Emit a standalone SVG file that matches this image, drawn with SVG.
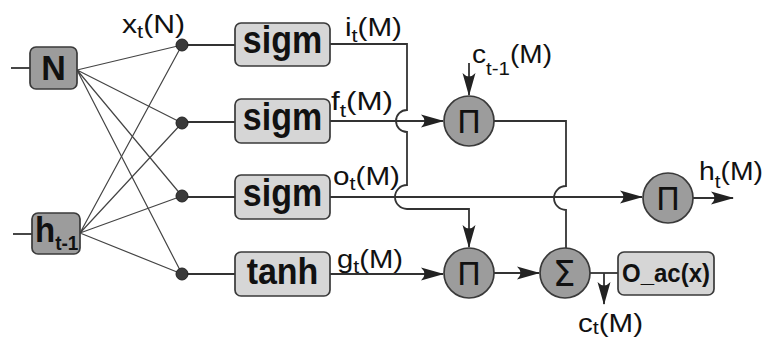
<svg xmlns="http://www.w3.org/2000/svg" width="764" height="340" viewBox="0 0 764 340">
<defs>
<style>
.bx{fill:#d6d6d6;stroke:#3a3a3a;stroke-width:1.7}
.dk{fill:#9c9c9c;stroke:#3a3a3a;stroke-width:1.7}
.ci{fill:#9c9c9c;stroke:#3a3a3a;stroke-width:1.7}
.dot{fill:#3a3a3a;stroke:#222;stroke-width:1}
.ln{fill:none;stroke:#333;stroke-width:1.8}
.fan{fill:none;stroke:#444;stroke-width:1.2}
.arr{marker-end:url(#ah)}
.bt{font-family:"Liberation Sans",Arial,sans-serif;font-weight:bold;fill:#111}
.lb{font-family:"Liberation Sans",Arial,sans-serif;font-size:26px;fill:#111}
.sb{font-size:19px}
.op{font-family:"DejaVu Sans",sans-serif;fill:#111;text-anchor:middle}
</style>
<marker id="ah" markerUnits="userSpaceOnUse" viewBox="-24 -8 26 16" refX="0" refY="0" markerWidth="26" markerHeight="16" orient="auto">
<path d="M1,0 L-22,-6.5 Q-15,0 -22,6.5 Z" fill="#222"/>
</marker>
</defs>

<g id="connectors">
<path class="ln" d="M11,68 H30"/>
<path class="ln" d="M13,234 H32"/>
<path class="fan" d="M77,70 L182,45 M77,70 L182,123 M77,70 L182,196 M77,70 L182,274"/>
<path class="fan" d="M80,233 L182,45 M80,233 L182,123 M80,233 L182,196 M80,233 L182,274"/>
<path class="ln" d="M182,45 H235 M182,122 H235 M182,197 H235 M182,274 H235"/>
<path class="ln arr" d="M330,44 H407 V110 A11,11 0 0 0 407,132 V185 A12,12 0 0 0 407,209 H469 V247"/>
<path class="ln arr" d="M330,121 H443"/>
<path class="ln arr" d="M330,197 H642"/>
<path class="ln arr" d="M330,274 H443"/>
<path class="ln arr" d="M469,63 V95"/>
<path class="ln" d="M494,121 H566 V186 A12,12 0 0 0 566,210 V248"/>
<path class="ln arr" d="M494,273 H539"/>
<path class="ln" d="M590,273 H618"/>
<path class="ln arr" d="M604,273 V304"/>
<path class="ln arr" d="M693,198 H733"/>
</g>

<g id="N"><rect class="dk" x="30" y="47" width="47" height="42" rx="6"/><text class="bt" transform="translate(53.5,80) scale(1,1.05)" font-size="34" text-anchor="middle">N</text></g>
<g id="h_prev"><rect class="dk" x="32" y="213" width="48" height="41" rx="6"/><text class="bt" transform="translate(35,242) scale(1,1.05)" font-size="33">h<tspan font-size="19" dy="8">t-1</tspan></text></g>

<g id="dot1"><circle class="dot" cx="182" cy="45" r="6"/></g>
<g id="dot2"><circle class="dot" cx="182" cy="123" r="6"/></g>
<g id="dot3"><circle class="dot" cx="182" cy="196" r="6"/></g>
<g id="dot4"><circle class="dot" cx="182" cy="274" r="6"/></g>

<g id="sigm_i"><rect class="bx" x="235" y="23" width="95" height="43" rx="6"/><text class="bt" transform="translate(282.5,53) scale(1,1.15)" font-size="34" text-anchor="middle">sigm</text></g>
<g id="sigm_f"><rect class="bx" x="235" y="99" width="95" height="44" rx="6"/><text class="bt" transform="translate(282.5,130) scale(1,1.15)" font-size="34" text-anchor="middle">sigm</text></g>
<g id="sigm_o"><rect class="bx" x="235" y="175" width="95" height="44" rx="6"/><text class="bt" transform="translate(282.5,206) scale(1,1.15)" font-size="34" text-anchor="middle">sigm</text></g>
<g id="tanh_g"><rect class="bx" x="235" y="252" width="95" height="44" rx="6"/><text class="bt" transform="translate(282.5,284) scale(1,1.08)" font-size="34" text-anchor="middle">tanh</text></g>

<g id="mul_f"><circle class="ci" cx="469" cy="121" r="25"/><text class="op" x="469" y="132.5" font-size="32">Π</text></g>
<g id="mul_i"><circle class="ci" cx="469" cy="273" r="25"/><text class="op" x="469" y="284.5" font-size="32">Π</text></g>
<g id="sum"><circle class="ci" cx="565" cy="273" r="25"/><text class="op" x="564" y="286" font-size="36">Σ</text></g>
<g id="mul_o"><circle class="ci" cx="668" cy="198" r="25"/><text class="op" x="668" y="209.5" font-size="32">Π</text></g>
<g id="oac"><rect class="bx" x="618" y="252" width="96" height="43" rx="6"/><text class="bt" transform="translate(666,282) scale(1,1.1)" font-size="24" text-anchor="middle">O_ac(x)</text></g>

<g id="labels">
<text class="lb" x="122" y="33" textLength="63" lengthAdjust="spacingAndGlyphs">x<tspan class="sb" dy="5">t</tspan><tspan dy="-5">(N)</tspan></text>
<text class="lb" x="345" y="36" textLength="57" lengthAdjust="spacingAndGlyphs">i<tspan class="sb" dy="6">t</tspan><tspan dy="-6">(M)</tspan></text>
<text class="lb" x="331" y="110" textLength="62" lengthAdjust="spacingAndGlyphs">f<tspan class="sb" dy="7">t</tspan><tspan dy="-7">(M)</tspan></text>
<text class="lb" x="472" y="63" textLength="80" lengthAdjust="spacingAndGlyphs">c<tspan class="sb" dy="12">t-1</tspan><tspan dy="-12">(M)</tspan></text>
<text class="lb" x="333" y="185" textLength="67" lengthAdjust="spacingAndGlyphs">o<tspan class="sb" dy="5">t</tspan><tspan dy="-5">(M)</tspan></text>
<text class="lb" x="337" y="268" textLength="66" lengthAdjust="spacingAndGlyphs">g<tspan class="sb" dy="5">t</tspan><tspan dy="-5">(M)</tspan></text>
<text class="lb" x="699" y="180" textLength="64" lengthAdjust="spacingAndGlyphs">h<tspan class="sb" dy="8">t</tspan><tspan dy="-8">(M)</tspan></text>
<text class="lb" x="578" y="332" textLength="65" lengthAdjust="spacingAndGlyphs">c<tspan class="sb" dy="2">t</tspan><tspan dy="-2">(M)</tspan></text>
</g>
</svg>
